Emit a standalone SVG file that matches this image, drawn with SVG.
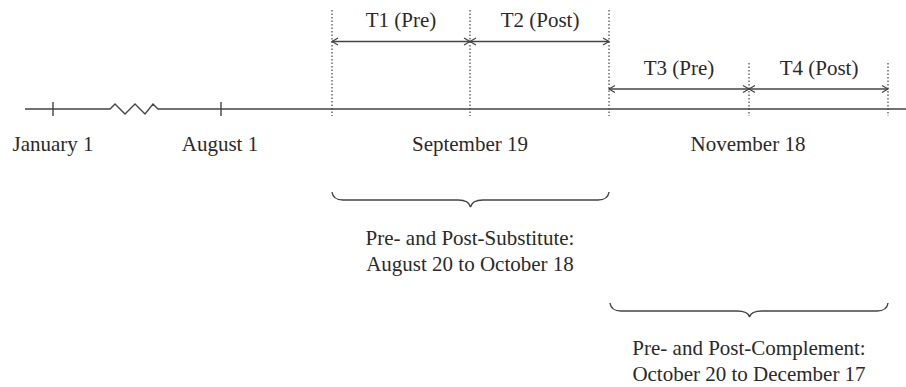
<svg xmlns="http://www.w3.org/2000/svg" width="906" height="387" viewBox="0 0 906 387">
<style>
text{font-family:"Liberation Serif","Times New Roman",serif;font-size:21px;fill:#2a2a2a;text-anchor:middle}
.ln{stroke:#444;stroke-width:1.4;fill:none}
.dot{stroke:#444;stroke-width:1.2;stroke-dasharray:1.5,2;fill:none}
.arr{stroke:#444;stroke-width:1.4;fill:none;marker-start:url(#ah);marker-end:url(#ah)}
</style>
<defs>
<marker id="ah" viewBox="-8 -5 10 10" refX="0" refY="0" markerWidth="10" markerHeight="10" markerUnits="userSpaceOnUse" orient="auto-start-reverse">
<path d="M-6,-3.5 L0,0 L-6,3.5" fill="none" stroke="#444" stroke-width="1.2"/>
</marker>
</defs>
<rect width="906" height="387" fill="#fff"/>
<g id="connectors">
<path class="ln" d="M25,109 L110,109 L115,104 L125,114 L135,104 L145,114 L153,104 L158,109 L906,109"/>
<path class="ln" d="M53,102 V116 M221,102 V116"/>
<path class="dot" d="M332,10 V116 M470,10 V116 M609,10 V116 M749,63 V116 M888,63 V116"/>
<path class="arr" d="M332,41.5 H470"/>
<path class="arr" d="M470,41.5 H609"/>
<path class="arr" d="M609,89 H749"/>
<path class="arr" d="M749,89 H888"/>
<path class="ln" d="M332,192 Q333,200 343,200 L458,200 Q469,200 470.5,207 Q472,200 483,200 L598,200 Q608,200 609,192"/>
<path class="ln" d="M610,303 Q611,311 621,311 L737,311 Q748,311 749.5,317 Q751,311 762,311 L877,311 Q887,311 888,303"/>
</g>
<g id="jan1"><text x="53" y="151">January 1</text></g>
<g id="aug1"><text x="220" y="151">August 1</text></g>
<g id="sep19"><text x="470" y="151">September 19</text></g>
<g id="nov18"><text x="748" y="151">November 18</text></g>
<g id="t1"><text x="401" y="27">T1 (Pre)</text></g>
<g id="t2"><text x="540" y="27">T2 (Post)</text></g>
<g id="t3"><text x="679" y="75">T3 (Pre)</text></g>
<g id="t4"><text x="819" y="75">T4 (Post)</text></g>
<g id="substitute"><text x="470" y="245">Pre- and Post-Substitute:</text><text x="470" y="271">August 20 to October 18</text></g>
<g id="complement"><text x="749" y="355">Pre- and Post-Complement:</text><text x="749" y="381">October 20 to December 17</text></g>
</svg>
